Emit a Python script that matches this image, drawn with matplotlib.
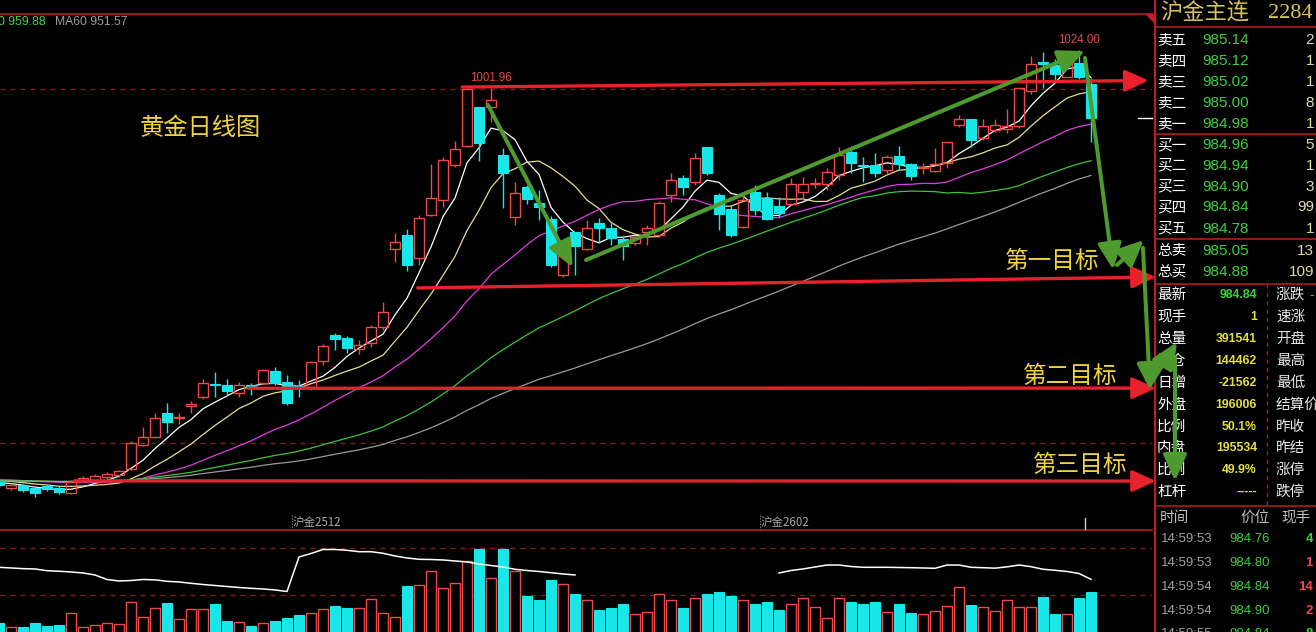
import numpy as np
import pandas as pd
import matplotlib
matplotlib.use("Agg")
import matplotlib.pyplot as plt
from matplotlib.patches import Polygon
import matplotlib.transforms as mtransforms

plt.rcParams['font.family'] = ['Noto Sans CJK SC', 'DejaVu Sans']
NUM = ['Liberation Sans', 'DejaVu Sans']

# ---------------- data ----------------
history_closes = [
    773.2, 774.8, 772.6, 770.9, 772.4, 774.1, 775.6, 773.8, 772.2, 771.0,
    772.9, 774.5, 776.0, 774.7, 773.1, 771.8, 773.6, 775.2, 774.0, 772.5,
    771.3, 772.8, 774.4, 775.9, 774.6, 773.0, 771.7, 773.3, 774.9, 776.2,
    775.0, 773.4, 772.1, 773.7, 775.3, 776.5, 775.1, 773.6, 772.4, 773.9,
    775.4, 776.8, 775.5, 774.0, 772.7, 774.2, 775.7, 776.9, 775.8, 776.4,
    775.6, 776.1, 775.3, 774.6, 775.2, 774.1, 773.5, 772.8, 773.0]

opens = [773.4, 770.0, 771.7, 770.0, 771.1, 770.0, 767.1, 774.0, 774.6, 776.3,
         777.5, 781.0, 794.9, 799.5, 813.5, 810.6, 817.5, 822.7, 830.3, 829.7,
         825.1, 829.7, 830.9, 837.8, 831.4, 829.1, 828.5, 843.6, 858.7, 857.0,
         850.6, 854.1, 863.3, 908.6, 916.7, 903.4, 928.3, 937.0, 957.3, 968.3,
         990.9, 990.9, 963.1, 927.1, 944.5, 935.3, 926.0, 893.5, 918.4, 908.6,
         923.7, 920.8, 914.4, 912.1, 918.4, 916.7, 939.9, 949.8, 947.4, 967.7,
         939.9, 931.8, 921.3, 941.6, 938.2, 933.5, 934.7, 941.6, 946.3, 946.3,
         951.5, 964.8, 957.3, 957.3, 954.4, 962.5, 957.9, 955.6, 953.8, 958.5,
         980.5, 984.0, 973.0, 977.6, 978.2, 979.9, 1000.2, 1017.0, 1015.3, 1008.3,
         1016.5, 1004.3]
highs = [774.6, 772.9, 772.3, 771.1, 771.7, 771.1, 774.6, 776.9, 778.1, 779.2,
         780.4, 797.2, 805.3, 813.5, 819.3, 813.5, 820.4, 833.2, 837.2, 833.2,
         831.4, 830.9, 839.0, 840.1, 835.5, 832.6, 843.6, 853.5, 859.9, 858.1,
         855.8, 864.5, 877.8, 917.9, 920.2, 928.3, 957.9, 961.9, 971.2, 1001.4,
         990.9, 1001.96, 967.2, 947.4, 945.7, 942.8, 927.7, 912.1, 918.4, 925.4,
         926.6, 923.7, 915.5, 916.7, 922.5, 936.4, 952.7, 951.5, 964.3, 967.7,
         941.1, 934.1, 941.1, 945.7, 941.6, 938.7, 949.8, 950.3, 949.8, 955.6,
         967.7, 968.3, 961.9, 964.3, 963.1, 968.3, 958.5, 958.5, 967.2, 970.6,
         986.3, 984.0, 984.0, 984.0, 989.8, 1002.0, 1020.5, 1022.9, 1018.8, 1023.4,
         1024.0, 1007.8]
lows = [770.5, 768.8, 767.6, 764.7, 768.2, 766.5, 766.5, 772.9, 773.4, 775.2,
        776.3, 780.4, 794.3, 799.0, 801.9, 807.1, 813.5, 821.6, 822.7, 823.9,
        822.7, 823.9, 830.3, 829.7, 818.1, 822.7, 826.8, 841.3, 850.0, 848.3,
        847.7, 851.7, 861.6, 901.0, 895.8, 899.3, 927.7, 932.9, 956.1, 967.7,
        959.6, 982.2, 932.4, 922.5, 934.7, 925.4, 898.1, 892.3, 893.5, 908.0,
        912.1, 910.9, 902.2, 910.9, 910.9, 915.5, 935.8, 939.9, 945.7, 951.5,
        919.6, 915.5, 920.8, 928.3, 925.4, 927.1, 934.1, 937.0, 944.0, 942.8,
        948.6, 952.7, 947.4, 950.3, 951.5, 954.4, 948.6, 952.1, 953.2, 955.6,
        979.3, 967.7, 971.8, 976.4, 975.9, 978.8, 998.5, 1002.0, 1006.6, 1008.3,
        1007.2, 970.6]
closes = [771.7, 771.7, 768.8, 767.1, 769.4, 767.6, 773.4, 775.8, 776.9, 778.1,
          779.8, 796.1, 799.5, 810.6, 808.2, 811.1, 818.7, 830.9, 829.7, 826.2,
          829.7, 828.0, 838.4, 830.9, 819.3, 828.5, 843.0, 852.3, 856.4, 851.2,
          852.9, 863.3, 872.0, 912.6, 899.3, 926.6, 938.2, 960.2, 966.6, 1001.4,
          970.1, 995.0, 952.7, 941.1, 937.6, 932.9, 899.3, 909.7, 910.3, 920.8,
          920.8, 915.0, 910.3, 915.5, 920.8, 935.3, 948.6, 944.5, 961.4, 952.7,
          928.9, 916.7, 937.0, 931.2, 926.0, 929.5, 946.3, 946.3, 946.9, 953.2,
          963.1, 958.5, 956.7, 952.7, 961.9, 957.9, 950.9, 956.1, 957.9, 970.6,
          984.0, 971.8, 979.9, 980.5, 979.9, 1002.0, 1015.9, 1015.9, 1010.1, 1021.1,
          1008.3, 984.84]
# volume (thousand lots)
volumes = [239, 220, 216, 236, 221, 226, 286, 216, 226, 236,
           231, 341, 266, 311, 336, 256, 306, 306, 331, 248,
           245, 221, 236, 248, 263, 278, 286, 306, 323, 313,
           311, 356, 286, 266, 423, 426, 496, 411, 436, 550,
           606, 461, 606, 498, 373, 353, 453, 433, 383, 353,
           303, 313, 333, 283, 293, 383, 353, 313, 363, 383,
           393, 373, 353, 333, 343, 303, 331, 361, 316, 261,
           361, 341, 331, 341, 291, 331, 286, 281, 296, 325,
           420, 326, 316, 296, 351, 316, 316, 366, 281, 281,
           361, 391.5]
nan = np.nan
# open interest (thousand lots); hidden part left empty
open_interest = [162.5, 161.5, 160.5, 160.0, 157.4, 156.6, 155.5, 154.0, 151.0, 144.2,
                 142.0, 142.7, 144.2, 143.7, 141.5, 140.5, 138.5, 136.7, 135.2, 133.7,
                 132.2, 131.0, 130.0, 128.5, 126.2, 178.0, 183.2, 189.2, 189.2, 188.0,
                 185.9, 185.9, 183.5, 179.5, 176.5, 174.5, 174.2, 173.5, 172.0, 170.5,
                 167.5, 165.2, 163.0, 159.5, 157.7, 156.2, 154.4, 152.5, 151.0, nan,
                 nan, nan, nan, nan, nan, nan, nan, nan, nan, nan,
                 nan, nan, nan, nan, nan, 154.0, 157.7, 160.0, 163.0, 165.9,
                 165.9, 163.7, 162.5, 162.5, 162.5, 162.2, 161.9, 161.5, 161.0, 165.9,
                 165.9, 162.5, 161.9, 161.2, 163.2, 165.9, 163.4, 159.6, 158.0, 156.2,
                 153.2, 144.5]

ma_periods = [5, 10, 20, 40, 60]
ma_label_values = {'MA40': 959.88, 'MA60': 951.57}
contract_labels = ['沪金2512', '沪金2602']
contract_positions = [24.5, 63.5]

title_text = '黄金日线图'
target_texts = ['第一目标', '第二目标', '第三目标']
target_text_pos = [(87.75, 901.6), (89.25, 834.9), (90.1, 783.3)]
red_arrows = [((38.6, 1002.5), (95.8, 1006.3)),
              ((34.9, 886.0), (96.4, 892.3)),
              ((20.75, 827.8), (96.4, 827.9)),
              ((6.3, 774.1), (96.4, 774.0))]
green_arrows = [((40.75, 992.1), (47.8, 898.0)),
                ((48.92, 902.2), (90.5, 1023.4)),
                ((90.5, 1019.4), (92.85, 896.5)),
                ((93.17, 899.3), (95.4, 913.8)),
                ((95.33, 909.2), (95.92, 826.8)),
                ((95.92, 829.7), (98.17, 854.6)),
                ((98.0, 845.9), (98.0, 774.0))]

# right panel content
header_name, header_code = '沪金主连', '2284'
ask_labels = ['卖五', '卖四', '卖三', '卖二', '卖一']
ask_prices = ['985.14', '985.12', '985.02', '985.00', '984.98']
ask_vols = ['2', '1', '1', '8', '1']
bid_labels = ['买一', '买二', '买三', '买四', '买五']
bid_prices = ['984.96', '984.94', '984.90', '984.84', '984.78']
bid_vols = ['5', '1', '3', '99', '1']
tot_labels = ['总卖', '总买']
tot_prices = ['985.05', '984.88']
tot_vols = ['13', '109']
stat_labels = ['最新', '现手', '总量', '持仓', '日增', '外盘', '比例', '内盘', '比例', '杠杆']
stat_values = ['984.84', '1', '391541', '144462', '-21562', '196006', '50.1%', '195534', '49.9%', '-----']
stat_labels2 = ['涨跌', '速涨', '开盘', '最高', '最低', '结算价', '昨收', '昨结', '涨停', '跌停']
tick_times = ['14:59:53', '14:59:53', '14:59:54', '14:59:54', '14:59:55']
tick_prices = ['984.76', '984.80', '984.84', '984.90', '984.84']
tick_vols = ['4', '1', '14', '2', '8']
tick_up = [False, True, True, True, False]

# ---------------- style ----------------
BG = 'black'
UP = '#f04848'
DOWN = '#19e6e6'
GRID = '#8a1c1c'
FRAME = '#a81c1c'
YELLOW = '#f0d23c'
RED_ARROW = '#e8222c'
GREEN_ARROW = '#4f9a2e'
GREEN_TXT = '#3ccf3c'
MA_COLORS = ['#ffffff', '#e6dd8a', '#e03ce0', '#3cc43c', '#9a9a9a']

W, H = 1316, 632
fig = plt.figure(figsize=(W / 100, H / 100), dpi=100, facecolor=BG)


def rect(x0, y0, x1, y1):
    return [x0 / W, 1 - y1 / H, (x1 - x0) / W, (y1 - y0) / H]


n = len(closes)
x = np.arange(n)
o = np.array(opens); c = np.array(closes); hi = np.array(highs); lo = np.array(lows)
up = c >= o

# ---------------- right panel ----------------
pax = fig.add_axes(rect(1154, 0, W, H))
pax.set_xlim(1154, W); pax.set_ylim(H, 0)
pax.set_facecolor(BG)
for s in pax.spines.values():
    s.set_visible(False)
pax.set_xticks([]); pax.set_yticks([])
pax.set_zorder(1)

pax.axvline(1155, color='#c01e1e', lw=1.5)
for yy in [27, 134, 239, 284, 506]:
    pax.axhline(yy, color='#b01e1e', lw=1.2)
pax.plot([1267, 1267], [284, 506], color='#a02020', lw=1, ls=(0, (3, 3)))

pax.text(1160, 13, header_name, color='#d8c45e', fontsize=16, ha='left', va='center')
pax.text(1268, 13, header_code, color='#d8c45e', fontsize=16, ha='left', va='center',
         family=['Liberation Serif', 'DejaVu Serif'])

rows_y1 = [40, 61, 81.7, 102.7, 124]
rows_y2 = [145, 165.7, 186.7, 207.3, 228.7]
rows_y3 = [251, 271.5]
for labs, prs, vols, ys in [(ask_labels, ask_prices, ask_vols, rows_y1),
                            (bid_labels, bid_prices, bid_vols, rows_y2),
                            (tot_labels, tot_prices, tot_vols, rows_y3)]:
    for lab, pr, vo, yy in zip(labs, prs, vols, ys):
        pax.text(1157, yy, lab, color='white', fontsize=10.5, ha='left', va='center')
        pax.text(1202, yy, pr, color=GREEN_TXT, fontsize=11, ha='left', va='center', family=NUM)
        pax.text(1314, yy, vo, color='#dcdca8', fontsize=11, ha='right', va='center', family=NUM)

stat_y = [295, 316.7, 339.3, 361, 382.7, 405, 426.7, 448.3, 470, 491.7]
for k, (lab, val, lab2, yy) in enumerate(zip(stat_labels, stat_values, stat_labels2, stat_y)):
    pax.text(1157, yy, lab, color='white', fontsize=10.5, ha='left', va='center')
    col = GREEN_TXT if k == 0 else '#e4e03c'
    pax.text(1257, yy, val, color=col, fontsize=8.8, ha='right', va='center',
             family=NUM, fontweight='bold')
    pax.text(1276, yy, lab2, color='#e8e8e8', fontsize=10.5, ha='left', va='center')
pax.text(1309, 295, '-', color=GREEN_TXT, fontsize=10, ha='left', va='center', family=NUM)

pax.text(1160, 518, '时间', color='#c0c0c0', fontsize=10.5, ha='left', va='center')
pax.text(1270, 518, '价位', color='#c0c0c0', fontsize=10.5, ha='right', va='center')
pax.text(1311, 518, '现手', color='#c0c0c0', fontsize=10.5, ha='right', va='center')
tick_y = [538.5, 563, 587, 611, 634]
for t, p, v, u, yy in zip(tick_times, tick_prices, tick_vols, tick_up, tick_y):
    pax.text(1161, yy, t, color='#a0a0a0', fontsize=9.5, ha='left', va='center', family=NUM)
    pax.text(1270, yy, p, color=GREEN_TXT, fontsize=9.5, ha='right', va='center', family=NUM)
    pax.text(1313, yy, v, color=('#f04848' if u else GREEN_TXT), fontsize=9.5, ha='right',
             va='center', family=NUM, fontweight='bold')

# ---------------- volume panel ----------------
vax = fig.add_axes(rect(0, 531, 1152, H))
vax.set_facecolor(BG)
vax.set_zorder(2)
vax.set_xlim(1 / 12, 1153 / 12)
vax.set_ylim(193, 698)
for s in vax.spines.values():
    s.set_visible(False)
vax.set_xticks([]); vax.set_yticks([])
vol = np.array(volumes)
vax.bar(x[~up], vol[~up], width=0.86, color=DOWN, edgecolor=DOWN, lw=0.8, zorder=3)
vax.bar(x[up], vol[up], width=0.86, facecolor=BG, edgecolor=UP, lw=1.0, zorder=3)
for lvl in [613, 378]:
    vax.axhline(lvl, color=GRID, lw=0.9, ls=(0, (4, 4)), zorder=1)
oax = vax.twinx()
oax.set_ylim(65.45, 216.95)
oax.set_xlim(1 / 12, 1153 / 12)
oax.axis('off')
oax.plot(x, open_interest, color='white', lw=1.1, zorder=4)

# ---------------- main price panel ----------------
ax = fig.add_axes(rect(0, 14, 1152, 530))
ax.set_zorder(10)
ax.patch.set_alpha(0)
ax.set_xlim(1 / 12, 1153 / 12)
ax.set_ylim(745.6, 1044.88)
ax.set_xticks([]); ax.set_yticks([])
for side in ['left', 'right']:
    ax.spines[side].set_visible(False)
for side in ['top', 'bottom']:
    ax.spines[side].set_color(FRAME)
    ax.spines[side].set_linewidth(1.3)

for lvl in [1001.4, 796.1]:
    ax.axhline(lvl, color=GRID, lw=0.9, ls=(0, (4, 4)), zorder=1)

allc = pd.Series(history_closes + closes)
for per, colr in zip(ma_periods, MA_COLORS):
    ma = allc.rolling(per).mean().values[-n:]
    ax.plot(x, ma, color=colr, lw=0.9, zorder=2)

# candles
bw = 0.78
body_lo = np.minimum(o, c)
body_hi = np.maximum(o, c)
bh = np.maximum(body_hi - body_lo, 0.25)
ax.vlines(x, body_hi, hi, color=np.where(up, UP, DOWN), lw=1.0, zorder=3)
ax.vlines(x, lo, body_lo, color=np.where(up, UP, DOWN), lw=1.0, zorder=3)
ax.bar(x[up], bh[up], bottom=body_lo[up], width=bw, facecolor='none', edgecolor=UP, lw=1.0, zorder=4)
ax.bar(x[~up], bh[~up], bottom=body_lo[~up], width=bw, color=DOWN, edgecolor=DOWN, lw=0.8, zorder=4)

# high labels
i1 = int(np.argmax(hi[:60]))
i2 = int(np.argmax(hi))
for ii in [i1, i2]:
    ax.annotate(f'{hi[ii]:.2f}', xy=(ii, hi[ii]), xytext=(0, 3), textcoords='offset points',
                ha='center', va='bottom', color='#e04a4a', fontsize=8.3, family=NUM, zorder=6)

# last-price marker
ax.plot([94.9, 96.08], [c[-1], c[-1]], color='white', lw=1, zorder=5, clip_on=False)

# MA labels
fig.text(46 / W, 1 - 22 / H, f"MA40 {ma_label_values['MA40']:.2f}", color='#46d246',
         fontsize=8.7, ha='right', va='center', family=NUM)
fig.text(55 / W, 1 - 22 / H, f"MA60 {ma_label_values['MA60']:.2f}", color='#9a9a9a',
         fontsize=8.7, ha='left', va='center', family=NUM)

# contract labels
trans = mtransforms.blended_transform_factory(ax.transData, ax.transAxes)
for lab, pos in zip(contract_labels, contract_positions):
    ax.plot([pos - 0.1, pos - 0.1], [0.0, 0.03], color='#909090', lw=0.8, ls=(0, (1, 1.5)),
            transform=trans, zorder=5)
    ax.text(pos, 0.0145, lab, color='#a8a8a8', fontsize=8.3, ha='left', va='center',
            transform=trans, zorder=5)
ax.plot([90.5, 90.5], [0.0, 0.024], color='#d0d0d0', lw=1, transform=trans, zorder=5)

# texts
ax.text(16.8, 978.8, title_text, color=YELLOW, fontsize=17.5, ha='center', va='center', zorder=7)
for t, (tx, ty) in zip(target_texts, target_text_pos):
    ax.text(tx, ty, t, color=YELLOW, fontsize=17, ha='center', va='center', zorder=7)


def arrow(start, end, color, lw, hl, hw, z):
    ann = ax.annotate('', xy=end, xytext=start, xycoords='data', textcoords='data',
                      arrowprops=dict(arrowstyle=f'-|>,head_length={hl},head_width={hw}',
                                      mutation_scale=20, lw=lw, color=color,
                                      shrinkA=0, shrinkB=0),
                      annotation_clip=False, zorder=z)
    ann.arrow_patch.set_clip_on(False)


for s, e in red_arrows:
    arrow(s, e, RED_ARROW, 2.4, 0.72, 0.33, 8)
for s, e in green_arrows:
    arrow(s, e, GREEN_ARROW, 2.9, 0.8, 0.36, 9)

# small marker at top right of the chart frame
fig.patches.append(Polygon([[1146 / W, 1 - 14 / H], [1155 / W, 1 - 14 / H], [1155 / W, 1 - 23 / H]],
                           closed=True, transform=fig.transFigure, color='#c01e1e', zorder=20))

fig.savefig('out.png', dpi=100, facecolor=BG)
